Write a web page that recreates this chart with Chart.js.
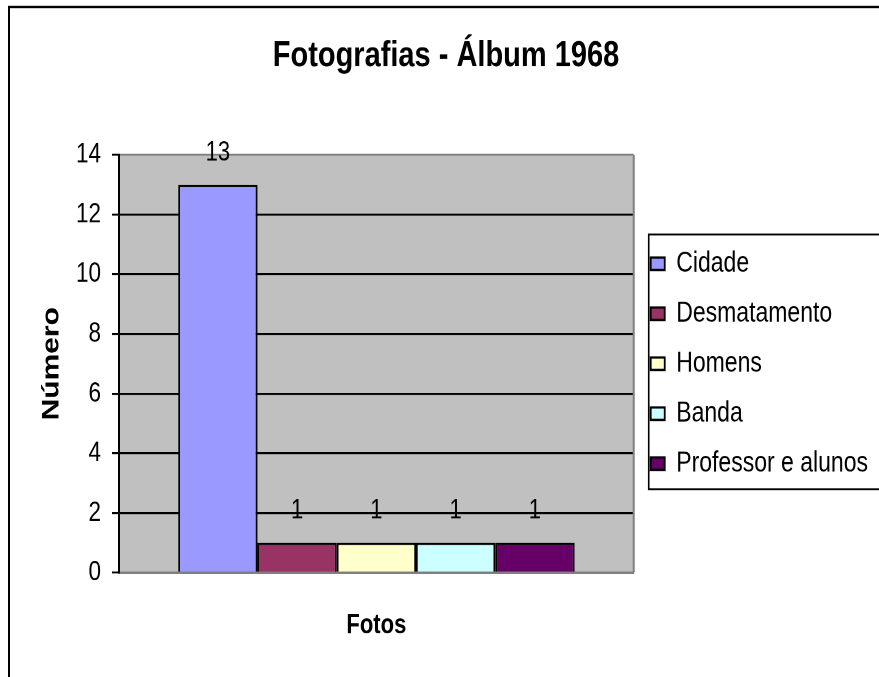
<!DOCTYPE html>
<html lang="pt">
<head>
<meta charset="utf-8">
<title>Fotografias - Álbum 1968</title>
<script src="https://cdn.jsdelivr.net/npm/chart.js@4/dist/chart.umd.min.js"></script>
<style>
    html, body { margin: 0; padding: 0; background: #ffffff; overflow: hidden; }
    body { width: 879px; height: 677px; }
    /* 原图是纵向拉伸过的 Excel 图表，这里整体纵向放大来还原 */
    #wrap { width: 879px; height: 542px; transform: scale(1, 1.2491); transform-origin: 0 0; }
</style>
</head>
<body>
<div id="wrap"><canvas id="chart" width="879" height="542"></canvas></div>
<script>
    'use strict';

    // 数据
    var categories = [''];
    var seriesNames = ['Cidade', 'Desmatamento', 'Homens', 'Banda', 'Professor e alunos'];
    var seriesValues = [13, 1, 1, 1, 1];
    var yMin = 0;
    var yMax = 14;
    var yStep = 2;

    // Excel 97 配色
    var seriesColors = ['#9999FF', '#993366', '#FFFFCC', '#CCFFFF', '#660066'];

    var FONT = "'Liberation Sans', Arial, sans-serif";

    Chart.defaults.color = '#000000';
    Chart.defaults.font.family = FONT;

    // 灰色绘图区、外框、图例框
    var plotFrame = {
        id: 'plotFrame',
        beforeDraw: function (chart) {
            var ctx = chart.ctx;
            var a = chart.chartArea;
            ctx.save();
            ctx.fillStyle = '#ffffff';
            ctx.fillRect(0, 0, chart.width, chart.height);
            ctx.fillStyle = '#C0C0C0';
            ctx.fillRect(a.left, a.top, a.right - a.left, a.bottom - a.top);
            // 外边框（只露出左、上两边）
            ctx.strokeStyle = '#000000';
            ctx.lineWidth = 2;
            ctx.strokeRect(9, 5.6, chart.width + 20, chart.height + 20);
            ctx.restore();
        },
        beforeDatasetsDraw: function (chart) {
            var ctx = chart.ctx;
            var a = chart.chartArea;
            ctx.save();
            ctx.strokeStyle = '#808080';
            ctx.lineWidth = 2;
            ctx.beginPath();
            ctx.moveTo(a.right, a.top);
            ctx.lineTo(a.right, a.bottom);
            ctx.stroke();
            ctx.restore();
        },
        afterDraw: function (chart) {
            var lg = chart.legend;
            if (!lg || !lg.legendHitBoxes || !lg.legendHitBoxes.length) return;
            var hb = lg.legendHitBoxes;
            var last = hb[hb.length - 1];
            var top = hb[0].top - 12;
            var ctx = chart.ctx;
            ctx.save();
            ctx.strokeStyle = '#000000';
            ctx.lineWidth = 1.6;
            ctx.strokeRect(lg.left + 15, top, chart.width, last.top + last.height + 9 - top);
            ctx.restore();
        }
    };

    // 柱顶数值标签
    var valueLabels = {
        id: 'valueLabels',
        afterDatasetsDraw: function (chart) {
            var ctx = chart.ctx;
            ctx.save();
            ctx.font = '22px ' + FONT;
            ctx.fillStyle = '#000000';
            ctx.textAlign = 'center';
            ctx.textBaseline = 'middle';
            chart.data.datasets.forEach(function (ds, i) {
                var meta = chart.getDatasetMeta(i);
                meta.data.forEach(function (bar, j) {
                    ctx.fillText(String(ds.data[j]), bar.x, bar.y - 25.6);
                });
            });
            ctx.restore();
        }
    };

    var datasets = seriesNames.map(function (name, i) {
        return {
            label: name,
            data: [seriesValues[i]],
            backgroundColor: seriesColors[i],
            borderColor: '#000000',
            borderWidth: 1.8,
            categoryPercentage: 0.77,
            barPercentage: 1.0
        };
    });

    new Chart(document.getElementById('chart'), {
        type: 'bar',
        data: { labels: categories, datasets: datasets },
        plugins: [plotFrame, valueLabels],
        options: {
            responsive: false,
            animation: false,
            devicePixelRatio: 2,
            layout: { padding: { left: 14, right: 1, top: 0, bottom: 0 } },
            plugins: {
                title: {
                    display: true,
                    text: 'Fotografias - Álbum 1968',
                    color: '#000000',
                    font: { family: FONT, size: 29, weight: 'bold' },
                    padding: { top: 27.4, bottom: 61.8 }
                },
                legend: {
                    position: 'right',
                    align: 'center',
                    fullSize: false,
                    maxWidth: 320,
                    labels: {
                        boxWidth: 14,
                        boxHeight: 10,
                        padding: 17,
                        color: '#000000',
                        font: { family: FONT, size: 23 }
                    }
                },
                tooltip: { enabled: false }
            },
            scales: {
                x: {
                    grid: { display: false },
                    border: { display: true, color: '#808080', width: 2 },
                    ticks: { display: false },
                    title: {
                        display: true,
                        text: 'Fotos',
                        color: '#000000',
                        font: { family: FONT, size: 22, weight: 'bold' },
                        padding: { top: 0, bottom: 27.8 }
                    },
                    afterFit: function (scale) { scale.height = 83.6; }
                },
                y: {
                    min: yMin,
                    max: yMax,
                    ticks: {
                        stepSize: yStep,
                        padding: 11,
                        color: '#000000',
                        font: { family: FONT, size: 22.5 }
                    },
                    grid: {
                        lineWidth: 1.6,
                        tickLength: 7,
                        tickWidth: 1.6,
                        tickColor: '#000000',
                        color: function (c) {
                            if (c.tick && c.tick.value === yMax) return '#808080';
                            if (c.tick && c.tick.value === yMin) return 'rgba(0,0,0,0)';
                            return '#000000';
                        }
                    },
                    border: { display: true, color: '#000000', width: 2 },
                    title: {
                        display: true,
                        text: 'Número',
                        color: '#000000',
                        font: { family: FONT, size: 24, weight: 'bold' },
                        padding: { top: 23.6, bottom: 0 }
                    },
                    afterFit: function (scale) { scale.width = 105; }
                }
            }
        }
    });
</script>
</body>
</html>
